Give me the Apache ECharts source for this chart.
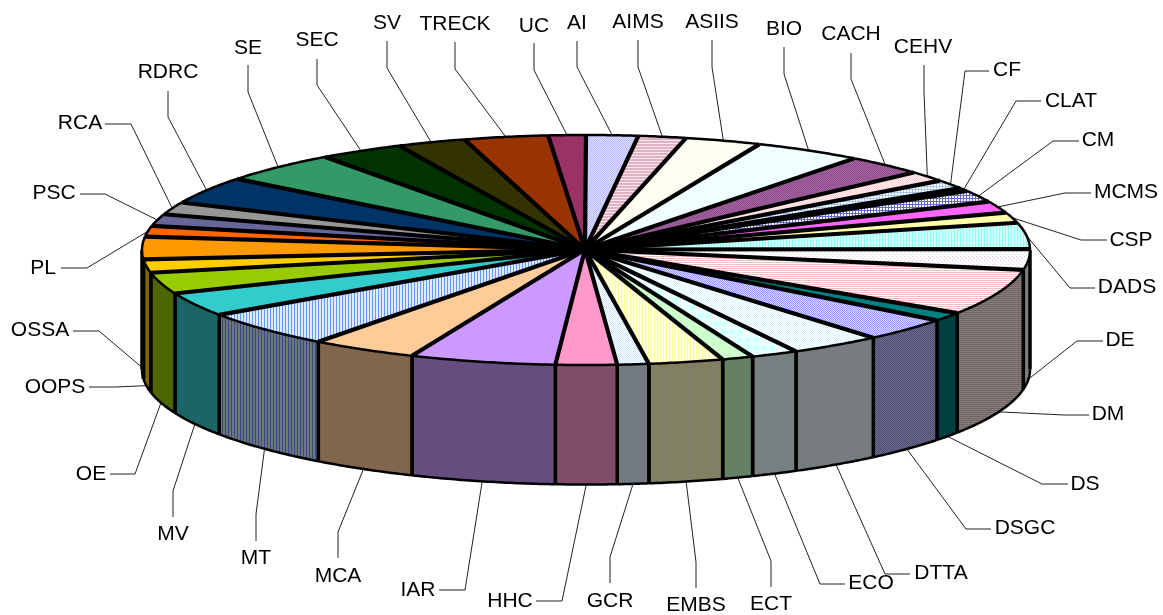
<!DOCTYPE html>
<html>
<head>
<meta charset="utf-8">
<style>
  html, body { margin: 0; padding: 0; background: #fff; }
  #chart { width: 1163px; height: 615px; }
</style>
</head>
<body>
<div id="chart"></div>
<script src="https://cdn.jsdelivr.net/npm/echarts@6/dist/echarts.min.js"></script>
<script>
// share of each slice in percent, clockwise from 12 o'clock
var names = ['AI', 'AIMS', 'ASIIS', 'BIO', 'CACH', 'CEHV', 'CF', 'CLAT', 'CM', 'MCMS', 'CSP', 'DADS', 'DE', 'DM', 'DS', 'DSGC', 'DTTA', 'ECO', 'ECT', 'EMBS', 'GCR', 'HHC', 'IAR', 'MCA', 'MT', 'MV', 'OE', 'OOPS', 'OSSA', 'PL', 'PSC', 'RCA', 'RDRC', 'SE', 'SEC', 'SV', 'TRECK', 'UC']
var values = [1.88, 1.74, 2.77, 3.94, 2.89, 1.47, 1.28, 0.44, 1.67, 1.64, 1.47, 3.69, 2.89, 6.47, 1.25, 3.31, 3.36, 1.72, 1.14, 2.72, 1.14, 2.22, 5.31, 3.89, 5.17, 3.36, 3.0, 1.86, 3.17, 1.5, 1.67, 1.75, 3.83, 4.39, 3.08, 2.5, 3.06, 1.36]

// fill of each slice: [pattern, foreground, background]
var fills = [
  ['dither', '#bbbbff', '#ddddff'], ['hstripe', '#e4b0c4', '#fbecf2'], ['dither', '#ffffe6', '#ffffff'],
  ['dither', '#e0ffff', '#ffffff'], ['dither', '#8f4f8f', '#a3639f'], ['dither', '#ffd0d8', '#fff0f0'],
  ['grid', '#a6c8f0', '#ffffff'], ['grid', '#b0b0e8', '#ffffff'], ['grid', '#6666cc', '#ffffff'],
  ['solid', '#ff66ff'], ['solid', '#ffffa8'], ['vstripe', '#8ffff8', '#d0fffb'],
  ['sparse', '#e8cce0', '#ffffff'], ['hstripe2', '#eec0c0', '#ffffff'], ['solid', '#008080'],
  ['dither', '#9999ff', '#d8d8ff'], ['dither', '#d8f4ff', '#ffffff'], ['dither', '#d8ffff', '#ffffff'],
  ['solid', '#ccffcc'], ['vstripe', '#ffff99', '#ffffdd'], ['dither', '#cce6ff', '#ffffff'],
  ['solid', '#ff99cc'], ['solid', '#cc99ff'], ['solid', '#ffcc99'],
  ['vstripe', '#6699ff', '#ddeaff'], ['solid', '#33cccc'], ['solid', '#99cc00'],
  ['solid', '#ffcc00'], ['solid', '#ff9900'], ['solid', '#ff6600'],
  ['solid', '#666699'], ['solid', '#969696'], ['solid', '#003366'],
  ['solid', '#339966'], ['solid', '#003300'], ['solid', '#333300'],
  ['solid', '#993300'], ['solid', '#993366']
]

// label layout: [text x, text y, line start x, line start y, elbow x, elbow y]
var labelLayout = {
  AI: [577, 23, 577, 41, 577, 67], AIMS: [638, 22, 638, 40, 638, 67], ASIIS: [712, 22, 712, 40, 712, 67],
  BIO: [784, 29, 784, 47, 784, 74], CACH: [851, 34, 851, 53, 851, 79], CEHV: [923, 47, 924, 65, 924, 92],
  CF: [1007, 70, 989, 71, 965, 71], CLAT: [1071, 101, 1041, 101, 1016, 101], CM: [1098, 140, 1079, 141, 1053, 141],
  MCMS: [1126, 192, 1091, 193, 1065, 193], CSP: [1131, 240, 1107, 240, 1081, 240], DADS: [1127, 287, 1095, 288, 1070, 288],
  DE: [1120, 340, 1103, 341, 1077, 341], DM: [1108, 414, 1089, 415, 1064, 415], DS: [1085, 484, 1068, 484, 1042, 484],
  DSGC: [1025, 528, 991, 529, 966, 529], DTTA: [941, 573, 910, 574, 885, 574], ECO: [871, 583, 845, 584, 820, 584],
  ECT: [771, 604, 771, 587, 771, 561], EMBS: [696, 605, 696, 588, 696, 562], GCR: [610, 601, 610, 583, 610, 557],
  HHC: [510, 601, 536, 601, 562, 601], IAR: [418, 590, 439, 590, 465, 590], MCA: [338, 576, 338, 558, 338, 532],
  MT: [256, 558, 256, 541, 256, 514], MV: [173, 534, 173, 517, 173, 491], OE: [91, 474, 110, 474, 135, 474],
  OOPS: [55, 387, 89, 387, 115, 387], OSSA: [40, 330, 73, 331, 99, 331], PL: [43, 268, 61, 268, 87, 268],
  PSC: [54, 193, 80, 194, 105, 194], RCA: [80, 123, 105, 124, 131, 124], RDRC: [168, 72, 168, 91, 168, 117],
  SE: [248, 48, 248, 65, 248, 92], SEC: [317, 40, 317, 59, 317, 85], SV: [387, 23, 387, 41, 387, 68],
  TRECK: [455, 24, 455, 42, 455, 69], UC: [534, 26, 534, 43, 534, 70]
}

var cx = 586
var cy = 250
var rx = 444
var ry = 115
var depth = 119.5
var hub = [585, 249.5]

var total = values.reduce(function (a, b) { return a + b }, 0)
var starts = []
values.reduce(function (sum, v, i) {
  starts[i] = sum / total * 360
  return sum + v
}, 0)

function endOf (i) {
  return i === values.length - 1 ? 360 : starts[i + 1]
}

// deg is clockwise from the top of the disc
function rim (deg, drop) {
  var r = deg * Math.PI / 180
  return [cx + rx * Math.sin(r), cy - ry * Math.cos(r) + (drop || 0)]
}

function arc (from, to, drop) {
  var pts = []
  var n = Math.max(2, Math.ceil((to - from) * 2))
  for (var k = 0; k <= n; k++) {
    pts.push(rim(from + (to - from) * k / n, drop))
  }
  return pts
}

function shade (hex, f) {
  var n = parseInt(hex.slice(1), 16)
  var c = [n >> 16 & 255, n >> 8 & 255, n & 255].map(function (v) { return Math.round(v * f) })
  return 'rgb(' + c.join(',') + ')'
}

function makeFill (fill, f) {
  var kind = fill[0]
  if (kind === 'solid') return shade(fill[1], f)
  var size = { dither: 2, hstripe: 3, hstripe2: 2, vstripe: 3, grid: 3, sparse: 4 }[kind]
  var tile = document.createElement('canvas')
  tile.width = tile.height = size
  var ctx = tile.getContext('2d')
  ctx.fillStyle = shade(fill[2], f)
  ctx.fillRect(0, 0, size, size)
  ctx.fillStyle = shade(fill[1], f)
  if (kind === 'dither') {
    ctx.fillRect(0, 0, 1, 1)
    ctx.fillRect(1, 1, 1, 1)
  } else if (kind === 'hstripe') {
    ctx.fillRect(0, 0, size, 2)
  } else if (kind === 'hstripe2') {
    ctx.fillRect(0, 0, size, 1)
  } else if (kind === 'vstripe') {
    ctx.fillRect(0, 0, 1, size)
  } else if (kind === 'grid') {
    ctx.fillRect(0, 0, size, 1)
    ctx.fillRect(0, 0, 1, size)
  } else {
    ctx.fillRect(0, 0, 1, 1)
    ctx.fillRect(2, 2, 1, 1)
  }
  return { image: tile, repeat: 'repeat' }
}

var topFills = fills.map(function (f) { return makeFill(f, 1) })
var wallFills = fills.map(function (f) { return makeFill(f, 0.5) })

function renderWall (params) {
  var i = params.dataIndex
  var from = Math.max(starts[i], 90)
  var to = Math.min(endOf(i), 270)
  if (to <= from) return { type: 'group', children: [] }
  var upper = arc(from, to, 0)
  var lower = arc(from, to, depth)
  return {
    type: 'group',
    children: [
      { type: 'polygon', shape: { points: upper.concat(lower.slice().reverse()) }, style: { fill: wallFills[i] }, silent: true },
      { type: 'polyline', shape: { points: [rim(from, 0), rim(from, depth)] }, style: { stroke: '#000', lineWidth: 3.5, fill: 'none' }, silent: true },
      { type: 'polyline', shape: { points: [rim(to, 0), rim(to, depth)] }, style: { stroke: '#000', lineWidth: 3.5, fill: 'none' }, silent: true },
      { type: 'polyline', shape: { points: lower }, style: { stroke: '#000', lineWidth: 2.5, fill: 'none' }, silent: true }
    ]
  }
}

function renderTop (params) {
  var i = params.dataIndex
  return {
    type: 'polygon',
    shape: { points: [hub].concat(arc(starts[i], endOf(i), 0)) },
    style: { fill: topFills[i] },
    silent: true
  }
}

function renderEdges (params) {
  var i = params.dataIndex
  return {
    type: 'group',
    children: [
      { type: 'polyline', shape: { points: [hub, rim(starts[i], 0)] }, style: { stroke: '#000', lineWidth: 4.2, fill: 'none' }, silent: true },
      { type: 'polyline', shape: { points: arc(starts[i], endOf(i), 0) }, style: { stroke: '#000', lineWidth: 2.5, fill: 'none' }, silent: true }
    ]
  }
}

function renderLabel (params) {
  var i = params.dataIndex
  var lay = labelLayout[names[i]]
  var mid = (starts[i] + endOf(i)) / 2
  // slices on the near half hang their leader off the bottom rim
  var anchor = rim(mid, mid > 90 && mid < 275 ? depth : 0)
  return {
    type: 'group',
    children: [
      { type: 'polyline', shape: { points: [[lay[2], lay[3]], [lay[4], lay[5]], anchor] }, style: { stroke: '#222', lineWidth: 1, fill: 'none' }, silent: true },
      { type: 'text', x: lay[0], y: lay[1], style: { text: names[i], fontFamily: 'Liberation Sans', fontSize: 21, fill: '#000', align: 'center', verticalAlign: 'middle' }, silent: true }
    ]
  }
}

var sliceData = values.map(function (v, i) { return { name: names[i], value: [v] } })

function layer (renderItem) {
  return { type: 'custom', coordinateSystem: 'none', renderItem: renderItem, data: sliceData, animation: false, silent: true }
}

var myChart = echarts.init(document.getElementById('chart'), null, { renderer: 'canvas' })
myChart.setOption({
  animation: false,
  backgroundColor: '#fff',
  series: [layer(renderLabel), layer(renderWall), layer(renderTop), layer(renderEdges)]
})
</script>
</body>
</html>
